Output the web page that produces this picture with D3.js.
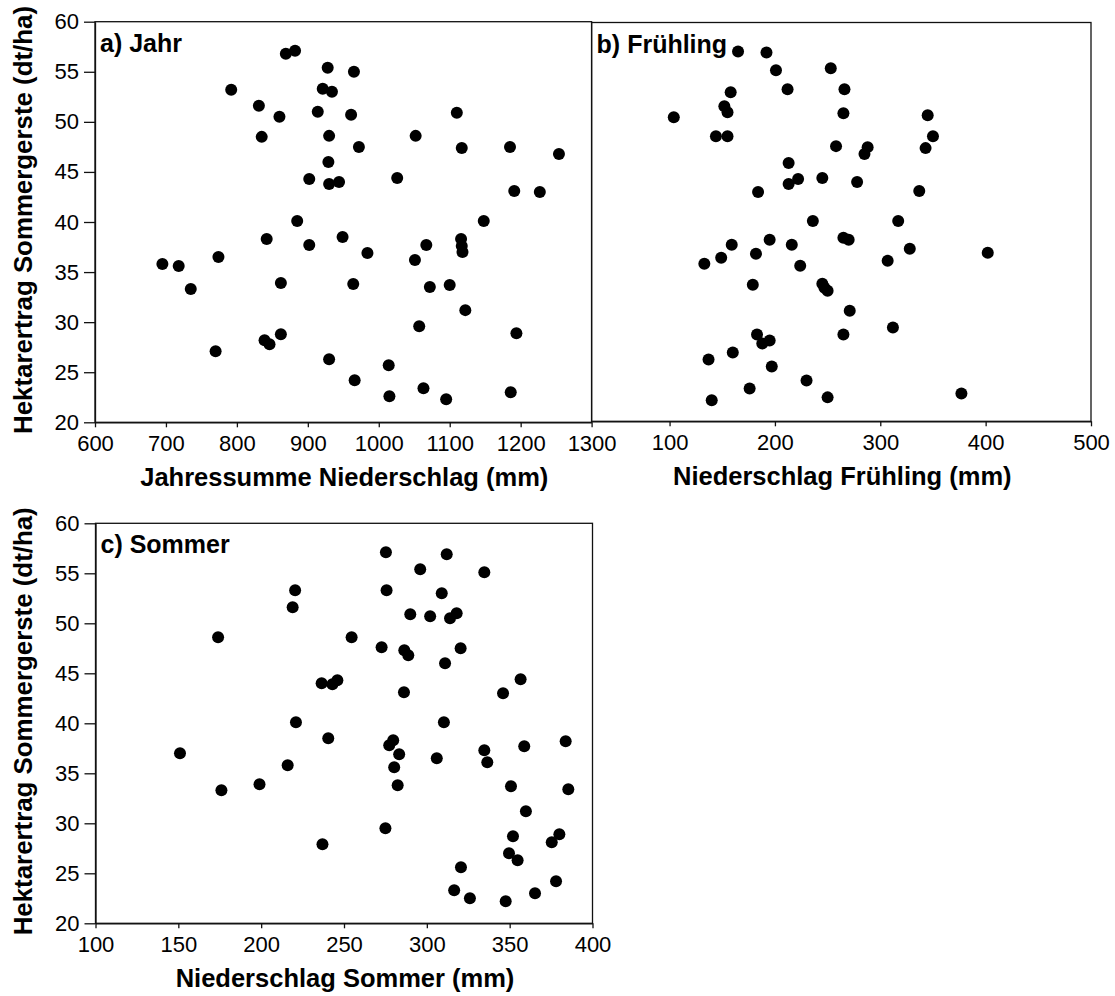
<!DOCTYPE html>
<html lang="de">
<head>
<meta charset="utf-8">
<title>Hektarertrag Sommergerste und Niederschlag</title>
<script src="https://cdn.jsdelivr.net/npm/d3@7"></script>
<style>
  html, body { margin: 0; padding: 0; background: #fff; }
  svg { display: block; font-family: "Liberation Sans", Arial, sans-serif; }
  .tick text { font-size: 22px; fill: #000; }
  .tick line, .domain { stroke: #111; stroke-width: 1.3px; }
  .frame { fill: none; stroke: #111; stroke-width: 1.3px; }
  .title { font-size: 25.5px; font-weight: bold; fill: #000; }
  .panel-label { font-size: 25px; font-weight: bold; fill: #000; }
</style>
</head>
<body>
<div id="chart"></div>
<script>
// Ertrag (dt/ha) und Niederschlag (mm)

// a) Jahressumme
const jahrNiederschlag = [695, 718, 735, 774, 770, 792, 831, 835, 842, 839, 846, 860, 862, 862, 869, 882, 885, 902, 902, 914,
  921, 928, 934, 930, 929, 930, 944, 930, 949, 961, 965, 972, 964, 966, 984, 1110, 1052, 1117, 1185, 1254,
  1026, 1191, 1227, 1148, 1116, 1117, 1118, 1067, 1051, 1100, 1072, 1122, 1057, 1194, 1014, 1015, 1063, 1095, 1186];
const jahrErtrag = [35.8, 35.6, 33.3, 36.5, 27.1, 53.2, 51.6, 48.5, 38.3, 28.2, 27.8, 50.5, 33.9, 28.8, 56.8, 57.1, 40.1, 37.7, 44.3, 51.0,
  53.3, 55.4, 53.0, 48.6, 46.0, 43.8, 44.0, 26.3, 38.5, 50.7, 55.0, 47.5, 33.8, 24.2, 36.9, 50.9, 48.6, 47.4, 47.5, 46.8,
  44.4, 43.1, 43.0, 40.1, 38.3, 37.6, 37.0, 37.7, 36.2, 33.7, 33.5, 31.2, 29.6, 28.9, 25.7, 22.6, 23.4, 22.3, 23.0];

// b) Frühling
const fruehlingNiederschlag = [104, 158, 152, 155, 144, 155, 165, 159, 149, 133, 160, 137, 140, 192, 201, 212, 253, 266, 265, 345,
  350, 343, 258, 288, 285, 213, 213, 222, 245, 278, 184, 337, 236, 317, 195, 216, 265, 270, 328, 307,
  182, 224, 179, 245, 247, 250, 271, 312, 183, 188, 195, 265, 197, 176, 230, 250, 377, 402];
const fruehlingErtrag = [50.5, 53.0, 51.6, 51.0, 48.6, 48.6, 57.1, 37.7, 36.4, 35.8, 26.9, 26.2, 22.1, 57.0, 55.2, 53.3, 55.4, 53.3, 50.9, 50.7,
  48.6, 47.4, 47.6, 47.5, 46.8, 45.9, 43.8, 44.3, 44.4, 44.0, 43.0, 43.1, 40.1, 40.1, 38.2, 37.7, 38.4, 38.2, 37.3, 36.1,
  36.8, 35.6, 33.7, 33.8, 33.4, 33.1, 31.1, 29.4, 28.7, 27.8, 28.1, 28.7, 25.5, 23.3, 24.1, 22.4, 22.8, 36.9];

// c) Sommer
const sommerNiederschlag = [151, 176, 174, 199, 216, 220.5, 219, 221, 236.5, 237, 240.5, 243, 246, 254.6, 272.7, 275.3, 275.7, 290, 296, 302,
  309, 312, 314, 318, 334.7, 286.4, 288.8, 320.4, 311, 286.2, 346, 356.6, 310.3, 277.3, 279.7, 283.3, 280.3, 282.4, 306, 334.7,
  336.5, 358.8, 383.8, 350.8, 385.4, 359.8, 275, 352, 375.4, 380, 349.6, 354.8, 320.6, 316.5, 326, 347.6, 365.3, 378];
const sommerErtrag = [37.0, 33.3, 48.6, 33.9, 35.8, 53.3, 51.6, 40.1, 44.0, 27.9, 38.5, 43.9, 44.3, 48.6, 47.6, 57.1, 53.3, 50.9, 55.4, 50.7,
  53.0, 56.9, 50.5, 51.0, 55.1, 47.3, 46.8, 47.5, 46.0, 43.1, 43.0, 44.4, 40.1, 37.8, 38.3, 36.9, 35.6, 33.8, 36.5, 37.3,
  36.1, 37.7, 38.2, 33.7, 33.4, 31.2, 29.5, 28.7, 28.1, 28.9, 27.0, 26.3, 25.6, 23.3, 22.5, 22.2, 23.0, 24.2];

// Achsenbeschriftungen
const ertragTicks = [20, 25, 30, 35, 40, 45, 50, 55, 60];
const jahrTicks = [600, 700, 800, 900, 1000, 1100, 1200, 1300];
const fruehlingTicks = [100, 200, 300, 400, 500];
const sommerTicks = [100, 150, 200, 250, 300, 350, 400];

const yTitle = "Hektarertrag Sommergerste (dt/ha)";

// Aufteilung der drei Felder auf der Seite
const panels = [
  { label: "a) Jahr", xTitle: "Jahressumme Niederschlag (mm)", xs: jahrNiederschlag, ys: jahrErtrag,
    xDomain: [600, 1300], xTicks: jahrTicks, left: 95, right: 591.6, top: 21.7, bottom: 422.3, yAxis: true },
  { label: "b) Frühling", xTitle: "Niederschlag Frühling (mm)", xs: fruehlingNiederschlag, ys: fruehlingErtrag,
    xDomain: [26, 500], xTicks: fruehlingTicks, left: 591.6, right: 1091, top: 22.5, bottom: 421.3, yAxis: false },
  { label: "c) Sommer", xTitle: "Niederschlag Sommer (mm)", xs: sommerNiederschlag, ys: sommerErtrag,
    xDomain: [100, 400], xTicks: sommerTicks, left: 95.5, right: 592.5, top: 523.3, bottom: 923.3, yAxis: true }
];

const width = 1115;
const height = 996;

const svg = d3.select("#chart")
  .append("svg")
  .attr("width", width)
  .attr("height", height);

svg.append("rect")
  .attr("width", width)
  .attr("height", height)
  .attr("fill", "#fff");

function drawPanel(p) {
  const x = d3.scaleLinear().domain(p.xDomain).range([p.left, p.right]);
  const y = d3.scaleLinear().domain([20, 60]).range([p.bottom, p.top]);
  const g = svg.append("g");

  // Rahmen
  g.append("rect")
    .attr("class", "frame")
    .attr("x", p.left)
    .attr("y", p.top)
    .attr("width", p.right - p.left)
    .attr("height", p.bottom - p.top);

  // x-Achse
  g.append("g")
    .attr("transform", `translate(0,${p.bottom})`)
    .call(d3.axisBottom(x).tickValues(p.xTicks).tickFormat(d3.format("d"))
      .tickSize(5).tickSizeOuter(0).tickPadding(8));

  // y-Achse (nur a und c)
  if (p.yAxis) {
    g.append("g")
      .attr("transform", `translate(${p.left},0)`)
      .call(d3.axisLeft(y).tickValues(ertragTicks).tickFormat(d3.format("d"))
        .tickSize(11).tickSizeOuter(0).tickPadding(5));

    g.append("text")
      .attr("class", "title")
      .attr("text-anchor", "middle")
      .attr("transform", `translate(31.5,${(p.top + p.bottom) / 2 - 2}) rotate(-90)`)
      .attr("textLength", 428)
      .attr("lengthAdjust", "spacingAndGlyphs")
      .text(yTitle);
  }

  // x-Titel
  g.append("text")
    .attr("class", "title")
    .attr("text-anchor", "middle")
    .attr("x", (p.left + p.right) / 2 + 1)
    .attr("y", p.bottom + 64)
    .text(p.xTitle);

  // Feldbezeichnung
  g.append("text")
    .attr("class", "panel-label")
    .attr("x", p.left + 5)
    .attr("y", p.top + 30)
    .text(p.label);

  // Punkte
  g.append("g")
    .selectAll("circle")
    .data(d3.zip(p.xs, p.ys))
    .join("circle")
    .attr("cx", d => x(d[0]))
    .attr("cy", d => y(d[1]))
    .attr("r", 6)
    .attr("fill", "#000");
}

panels.forEach(drawPanel);

// Achsen-Standardschrift von d3 entfernen, damit CSS greift
svg.selectAll("g[font-family]").attr("font-family", null).attr("font-size", null);
</script>
</body>
</html>
